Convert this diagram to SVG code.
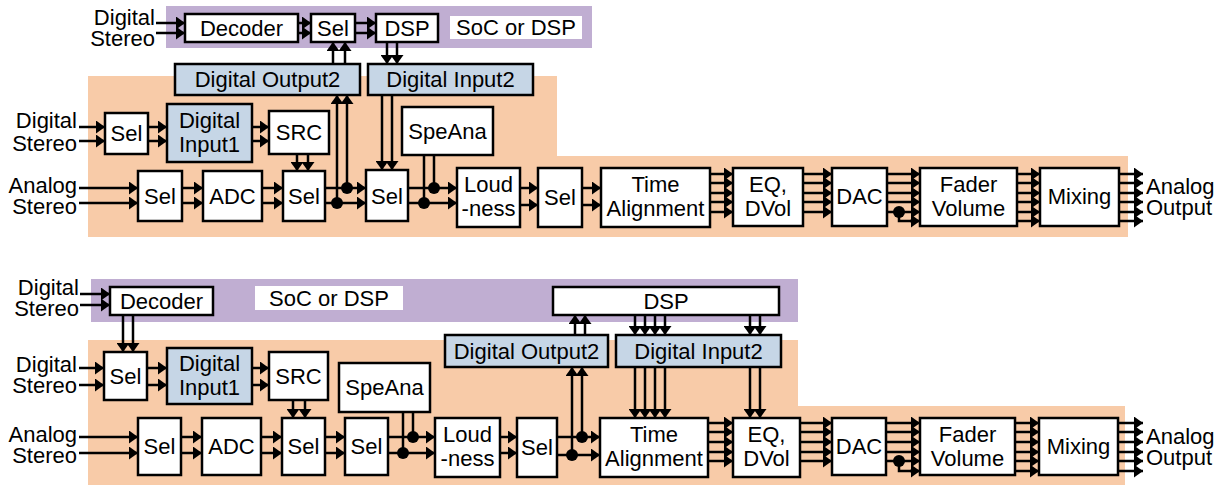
<svg xmlns="http://www.w3.org/2000/svg" width="1226" height="486" viewBox="0 0 1226 486">
<style>
.bx{fill:#fff;stroke:#000;stroke-width:2.5}
.bl{fill:#c6d6e6;stroke:#000;stroke-width:2.5}
.t{font-family:"Liberation Sans",Arial,sans-serif;font-size:22px;fill:#000;text-anchor:middle}
.e{text-anchor:end}
.s{text-anchor:start}
.c line,.c path{stroke:#000;stroke-width:2.5;fill:none}
.c line.a{marker-end:url(#ah)}
.d{fill:#000}
</style>
<defs>
<marker id="ah" markerUnits="userSpaceOnUse" markerWidth="9" markerHeight="13" refX="9" refY="6.5" orient="auto"><path d="M0,0 L9,6.5 L0,13 z" fill="#000"/></marker>
</defs>
<g id="background">
<rect x="166" y="6" width="426" height="42" fill="#c0aed2"/>
<polygon points="88,76 557,76 557,156 1128,156 1128,237 88,237" fill="#f8cba8"/>
<rect x="91" y="279" width="707" height="43" fill="#c0aed2"/>
<polygon points="88,340 798,340 798,406 1125,406 1125,485 88,485" fill="#f8cba8"/>
</g>
<g id="labels">
<text class="t e" x="155" y="25">Digital</text><text class="t e" x="155" y="46">Stereo</text>
<text class="t e" x="77" y="128">Digital</text><text class="t e" x="77" y="151">Stereo</text>
<text class="t e" x="77" y="193">Analog</text><text class="t e" x="77" y="214">Stereo</text>
<text class="t s" x="1146" y="194">Analog</text><text class="t s" x="1146" y="215">Output</text>
<text class="t e" x="79" y="295">Digital</text><text class="t e" x="79" y="316">Stereo</text>
<text class="t e" x="77" y="372">Digital</text><text class="t e" x="77" y="393">Stereo</text>
<text class="t e" x="77" y="442">Analog</text><text class="t e" x="77" y="463">Stereo</text>
<text class="t s" x="1146" y="444">Analog</text><text class="t s" x="1146" y="465">Output</text>
</g>
<g id="connectors" class="c">
<!-- top diagram -->
<line class="a" x1="156" y1="23" x2="185" y2="23"/><line class="a" x1="156" y1="33" x2="185" y2="33"/>
<line class="a" x1="298" y1="23" x2="311" y2="23"/><line class="a" x1="298" y1="33" x2="311" y2="33"/>
<line class="a" x1="355" y1="23" x2="376" y2="23"/><line class="a" x1="355" y1="33" x2="376" y2="33"/>
<line class="a" x1="333" y1="64" x2="333" y2="42"/><line class="a" x1="345" y1="64" x2="345" y2="42"/>
<line class="a" x1="387" y1="42" x2="387" y2="64"/><line class="a" x1="397" y1="42" x2="397" y2="64"/>
<line class="a" x1="79" y1="127" x2="105" y2="127"/><line class="a" x1="79" y1="141" x2="105" y2="141"/>
<line class="a" x1="148" y1="127" x2="167" y2="127"/><line class="a" x1="148" y1="141" x2="167" y2="141"/>
<line class="a" x1="252" y1="127" x2="269" y2="127"/><line class="a" x1="252" y1="141" x2="269" y2="141"/>
<line class="a" x1="297" y1="154" x2="297" y2="171"/><line class="a" x1="308" y1="154" x2="308" y2="171"/>
<line class="a" x1="79" y1="188" x2="138" y2="188"/><line class="a" x1="79" y1="203" x2="138" y2="203"/>
<line class="a" x1="182" y1="188" x2="203" y2="188"/><line class="a" x1="182" y1="203" x2="203" y2="203"/>
<line class="a" x1="262" y1="188" x2="283" y2="188"/><line class="a" x1="262" y1="203" x2="283" y2="203"/>
<line class="a" x1="325" y1="188" x2="366" y2="188"/><line class="a" x1="325" y1="203" x2="366" y2="203"/>
<line class="a" x1="347" y1="188" x2="347" y2="95"/><line class="a" x1="337" y1="203" x2="337" y2="95"/>
<line class="a" x1="382" y1="95" x2="382" y2="170"/><line class="a" x1="392" y1="95" x2="392" y2="170"/>
<line class="a" x1="408" y1="188" x2="457" y2="188"/><line class="a" x1="408" y1="203" x2="457" y2="203"/>
<line x1="434" y1="188" x2="434" y2="154"/><line x1="424" y1="203" x2="424" y2="154"/>
<line class="a" x1="520" y1="188" x2="538" y2="188"/><line class="a" x1="520" y1="205" x2="538" y2="205"/>
<line class="a" x1="582" y1="188" x2="601" y2="188"/><line class="a" x1="582" y1="205" x2="601" y2="205"/>
<line class="a" x1="710" y1="174" x2="733" y2="174"/><line class="a" x1="710" y1="183" x2="733" y2="183"/><line class="a" x1="710" y1="193" x2="733" y2="193"/><line class="a" x1="710" y1="202" x2="733" y2="202"/><line class="a" x1="710" y1="212" x2="733" y2="212"/>
<line class="a" x1="803" y1="174" x2="832" y2="174"/><line class="a" x1="803" y1="183" x2="832" y2="183"/><line class="a" x1="803" y1="193" x2="832" y2="193"/><line class="a" x1="803" y1="202" x2="832" y2="202"/><line class="a" x1="803" y1="212" x2="832" y2="212"/>
<line class="a" x1="887" y1="174" x2="920" y2="174"/><line class="a" x1="887" y1="183" x2="920" y2="183"/><line class="a" x1="887" y1="193" x2="920" y2="193"/><line class="a" x1="887" y1="202" x2="920" y2="202"/><line class="a" x1="887" y1="212" x2="920" y2="212"/>
<path d="M899,212 V221 H911"/><line class="a" x1="910" y1="221" x2="920" y2="221"/>
<line class="a" x1="1017" y1="174" x2="1040" y2="174"/><line class="a" x1="1017" y1="183" x2="1040" y2="183"/><line class="a" x1="1017" y1="193" x2="1040" y2="193"/><line class="a" x1="1017" y1="202" x2="1040" y2="202"/><line class="a" x1="1017" y1="212" x2="1040" y2="212"/><line class="a" x1="1017" y1="221" x2="1040" y2="221"/>
<line class="a" x1="1119" y1="174" x2="1143" y2="174"/><line class="a" x1="1119" y1="183" x2="1143" y2="183"/><line class="a" x1="1119" y1="193" x2="1143" y2="193"/><line class="a" x1="1119" y1="202" x2="1143" y2="202"/><line class="a" x1="1119" y1="212" x2="1143" y2="212"/><line class="a" x1="1119" y1="221" x2="1143" y2="221"/>
<circle class="d" cx="347" cy="188" r="6"/><circle class="d" cx="337" cy="203" r="6"/>
<circle class="d" cx="434" cy="188" r="6"/><circle class="d" cx="424" cy="203" r="6"/>
<circle class="d" cx="899" cy="212" r="6"/>
<!-- bottom diagram -->
<line class="a" x1="80" y1="294" x2="110" y2="294"/><line class="a" x1="80" y1="305" x2="110" y2="305"/>
<line class="a" x1="123" y1="315" x2="123" y2="352"/><line class="a" x1="133" y1="315" x2="133" y2="352"/>
<line class="a" x1="79" y1="368" x2="104" y2="368"/><line class="a" x1="79" y1="385" x2="104" y2="385"/>
<line class="a" x1="147" y1="368" x2="167" y2="368"/><line class="a" x1="147" y1="385" x2="167" y2="385"/>
<line class="a" x1="252" y1="368" x2="269" y2="368"/><line class="a" x1="252" y1="385" x2="269" y2="385"/>
<line class="a" x1="293" y1="400" x2="293" y2="418"/><line class="a" x1="305" y1="400" x2="305" y2="418"/>
<line class="a" x1="79" y1="437" x2="138" y2="437"/><line class="a" x1="79" y1="453" x2="138" y2="453"/>
<line class="a" x1="181" y1="437" x2="202" y2="437"/><line class="a" x1="181" y1="453" x2="202" y2="453"/>
<line class="a" x1="261" y1="437" x2="282" y2="437"/><line class="a" x1="261" y1="453" x2="282" y2="453"/>
<line class="a" x1="325" y1="437" x2="345" y2="437"/><line class="a" x1="325" y1="453" x2="345" y2="453"/>
<line class="a" x1="388" y1="437" x2="435" y2="437"/><line class="a" x1="388" y1="453" x2="435" y2="453"/>
<line x1="413" y1="437" x2="413" y2="412"/><line x1="403" y1="453" x2="403" y2="412"/>
<line class="a" x1="500" y1="437" x2="517" y2="437"/><line class="a" x1="500" y1="453" x2="517" y2="453"/>
<line class="a" x1="557" y1="437" x2="600" y2="437"/><line class="a" x1="557" y1="455" x2="600" y2="455"/>
<line class="a" x1="582" y1="437" x2="582" y2="367"/><line class="a" x1="572" y1="455" x2="572" y2="367"/>
<line class="a" x1="575" y1="335" x2="575" y2="315"/><line class="a" x1="585" y1="335" x2="585" y2="315"/>
<line class="a" x1="635" y1="315" x2="635" y2="335"/><line class="a" x1="645" y1="315" x2="645" y2="335"/><line class="a" x1="655" y1="315" x2="655" y2="335"/><line class="a" x1="665" y1="315" x2="665" y2="335"/>
<line class="a" x1="750" y1="315" x2="750" y2="335"/><line class="a" x1="760" y1="315" x2="760" y2="335"/>
<line class="a" x1="635" y1="367" x2="635" y2="418"/><line class="a" x1="645" y1="367" x2="645" y2="418"/><line class="a" x1="655" y1="367" x2="655" y2="418"/><line class="a" x1="665" y1="367" x2="665" y2="418"/>
<line class="a" x1="750" y1="367" x2="750" y2="418"/><line class="a" x1="760" y1="367" x2="760" y2="418"/>
<line class="a" x1="708" y1="423" x2="733" y2="423"/><line class="a" x1="708" y1="432" x2="733" y2="432"/><line class="a" x1="708" y1="442" x2="733" y2="442"/><line class="a" x1="708" y1="452" x2="733" y2="452"/><line class="a" x1="708" y1="461" x2="733" y2="461"/>
<line class="a" x1="800" y1="423" x2="832" y2="423"/><line class="a" x1="800" y1="432" x2="832" y2="432"/><line class="a" x1="800" y1="442" x2="832" y2="442"/><line class="a" x1="800" y1="452" x2="832" y2="452"/><line class="a" x1="800" y1="461" x2="832" y2="461"/>
<line class="a" x1="886" y1="423" x2="920" y2="423"/><line class="a" x1="886" y1="432" x2="920" y2="432"/><line class="a" x1="886" y1="442" x2="920" y2="442"/><line class="a" x1="886" y1="452" x2="920" y2="452"/><line class="a" x1="886" y1="461" x2="920" y2="461"/>
<path d="M899,461 V471 H911"/><line class="a" x1="910" y1="471" x2="920" y2="471"/>
<line class="a" x1="1015" y1="423" x2="1039" y2="423"/><line class="a" x1="1015" y1="432" x2="1039" y2="432"/><line class="a" x1="1015" y1="442" x2="1039" y2="442"/><line class="a" x1="1015" y1="452" x2="1039" y2="452"/><line class="a" x1="1015" y1="461" x2="1039" y2="461"/><line class="a" x1="1015" y1="471" x2="1039" y2="471"/>
<line class="a" x1="1118" y1="423" x2="1143" y2="423"/><line class="a" x1="1118" y1="432" x2="1143" y2="432"/><line class="a" x1="1118" y1="442" x2="1143" y2="442"/><line class="a" x1="1118" y1="452" x2="1143" y2="452"/><line class="a" x1="1118" y1="461" x2="1143" y2="461"/><line class="a" x1="1118" y1="471" x2="1143" y2="471"/>
<circle class="d" cx="413" cy="437" r="6"/><circle class="d" cx="403" cy="453" r="6"/>
<circle class="d" cx="582" cy="437" r="6"/><circle class="d" cx="572" cy="455" r="6"/>
<circle class="d" cx="899" cy="461" r="6"/>
</g>
<!-- top diagram nodes -->
<g id="t-decoder"><rect class="bx" x="185" y="14" width="113" height="28"/><text class="t" x="241.5" y="36">Decoder</text></g>
<g id="t-sel0"><rect class="bx" x="311" y="14" width="44" height="28"/><text class="t" x="333" y="36">Sel</text></g>
<g id="t-dsp"><rect class="bx" x="376" y="14" width="62" height="28"/><text class="t" x="407" y="36">DSP</text></g>
<g id="t-soc"><rect x="450" y="16" width="132" height="23" fill="#fff"/><text class="t" x="516" y="35">SoC or DSP</text></g>
<g id="t-dout2"><rect class="bl" x="175" y="64" width="185" height="31"/><text class="t" x="267.5" y="87">Digital Output2</text></g>
<g id="t-din2"><rect class="bl" x="368" y="64" width="165" height="31"/><text class="t" x="450.5" y="87">Digital Input2</text></g>
<g id="t-sel1"><rect class="bx" x="105" y="113" width="43" height="41"/><text class="t" x="126.5" y="141">Sel</text></g>
<g id="t-din1"><rect class="bl" x="167" y="104" width="85" height="58"/><text class="t" x="209.5" y="128">Digital</text><text class="t" x="209.5" y="152">Input1</text></g>
<g id="t-src"><rect class="bx" x="269" y="111" width="60" height="43"/><text class="t" x="299" y="140">SRC</text></g>
<g id="t-speana"><rect class="bx" x="402" y="107" width="91" height="48"/><text class="t" x="447.5" y="139">SpeAna</text></g>
<g id="t-sel2"><rect class="bx" x="138" y="171" width="44" height="50"/><text class="t" x="160" y="204">Sel</text></g>
<g id="t-adc"><rect class="bx" x="203" y="171" width="59" height="50"/><text class="t" x="232.5" y="204">ADC</text></g>
<g id="t-sel3"><rect class="bx" x="283" y="171" width="42" height="50"/><text class="t" x="304" y="204">Sel</text></g>
<g id="t-sel4"><rect class="bx" x="366" y="170" width="42" height="51"/><text class="t" x="387" y="204">Sel</text></g>
<g id="t-loud"><rect class="bx" x="457" y="168" width="63" height="59"/><text class="t" x="488.5" y="192">Loud</text><text class="t" x="488.5" y="216">-ness</text></g>
<g id="t-sel5"><rect class="bx" x="538" y="168" width="44" height="59"/><text class="t" x="560" y="205">Sel</text></g>
<g id="t-ta"><rect class="bx" x="601" y="168" width="109" height="59"/><text class="t" x="655.5" y="192">Time</text><text class="t" x="655.5" y="216">Alignment</text></g>
<g id="t-eq"><rect class="bx" x="733" y="168" width="70" height="58"/><text class="t" x="768" y="192">EQ,</text><text class="t" x="768" y="216">DVol</text></g>
<g id="t-dac"><rect class="bx" x="832" y="168" width="55" height="58"/><text class="t" x="859.5" y="204">DAC</text></g>
<g id="t-fader"><rect class="bx" x="920" y="168" width="97" height="58"/><text class="t" x="968.5" y="192">Fader</text><text class="t" x="968.5" y="216">Volume</text></g>
<g id="t-mix"><rect class="bx" x="1040" y="168" width="79" height="58"/><text class="t" x="1079.5" y="204">Mixing</text></g>
<!-- bottom diagram nodes -->
<g id="b-decoder"><rect class="bx" x="110" y="287" width="103" height="28"/><text class="t" x="161.5" y="309">Decoder</text></g>
<g id="b-soc"><rect x="255" y="286" width="148" height="24" fill="#fff"/><text class="t" x="329" y="306">SoC or DSP</text></g>
<g id="b-dsp"><rect class="bx" x="553" y="287" width="226" height="28"/><text class="t" x="666" y="309">DSP</text></g>
<g id="b-dout2"><rect class="bl" x="445" y="335" width="163" height="32"/><text class="t" x="526.5" y="359">Digital Output2</text></g>
<g id="b-din2"><rect class="bl" x="616" y="335" width="165" height="32"/><text class="t" x="698.5" y="359">Digital Input2</text></g>
<g id="b-sel1"><rect class="bx" x="104" y="352" width="43" height="48"/><text class="t" x="125.5" y="384">Sel</text></g>
<g id="b-din1"><rect class="bl" x="167" y="348" width="85" height="56"/><text class="t" x="209.5" y="371">Digital</text><text class="t" x="209.5" y="395">Input1</text></g>
<g id="b-src"><rect class="bx" x="269" y="352" width="59" height="48"/><text class="t" x="298.5" y="384">SRC</text></g>
<g id="b-speana"><rect class="bx" x="339" y="363" width="91" height="49"/><text class="t" x="384.5" y="395">SpeAna</text></g>
<g id="b-sel2"><rect class="bx" x="138" y="418" width="43" height="57"/><text class="t" x="159.5" y="454">Sel</text></g>
<g id="b-adc"><rect class="bx" x="202" y="418" width="59" height="57"/><text class="t" x="231.5" y="454">ADC</text></g>
<g id="b-sel3"><rect class="bx" x="282" y="418" width="43" height="57"/><text class="t" x="303.5" y="454">Sel</text></g>
<g id="b-sel4"><rect class="bx" x="345" y="418" width="43" height="57"/><text class="t" x="366.5" y="454">Sel</text></g>
<g id="b-loud"><rect class="bx" x="435" y="418" width="65" height="59"/><text class="t" x="467.5" y="442">Loud</text><text class="t" x="467.5" y="466">-ness</text></g>
<g id="b-sel5"><rect class="bx" x="517" y="418" width="40" height="59"/><text class="t" x="537" y="455">Sel</text></g>
<g id="b-ta"><rect class="bx" x="600" y="418" width="108" height="59"/><text class="t" x="654" y="442">Time</text><text class="t" x="654" y="466">Alignment</text></g>
<g id="b-eq"><rect class="bx" x="733" y="418" width="67" height="59"/><text class="t" x="766.5" y="442">EQ,</text><text class="t" x="766.5" y="466">DVol</text></g>
<g id="b-dac"><rect class="bx" x="832" y="418" width="54" height="57"/><text class="t" x="859" y="454">DAC</text></g>
<g id="b-fader"><rect class="bx" x="920" y="418" width="95" height="57"/><text class="t" x="967.5" y="442">Fader</text><text class="t" x="967.5" y="466">Volume</text></g>
<g id="b-mix"><rect class="bx" x="1039" y="418" width="79" height="57"/><text class="t" x="1078.5" y="454">Mixing</text></g>
</svg>
